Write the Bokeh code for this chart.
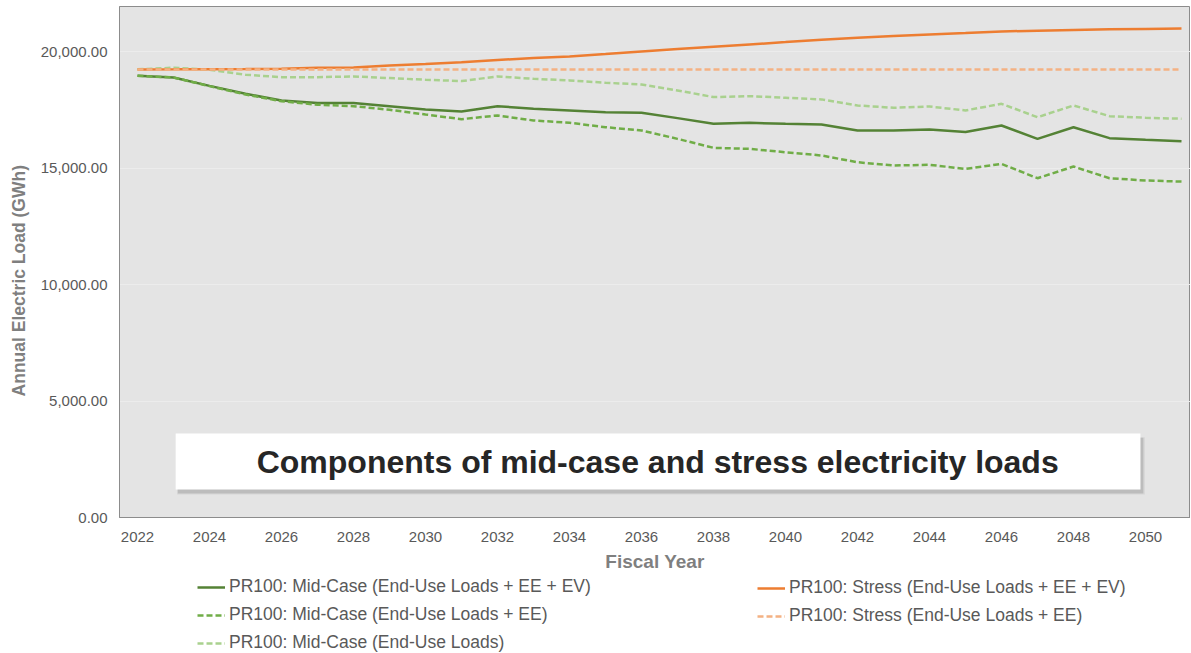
import math
from bokeh.plotting import figure
from bokeh.layouts import column, row
from bokeh.models import (ColumnDataSource, Legend, LegendItem, FixedTicker,
                          NumeralTickFormatter, BoxAnnotation, Label)
from bokeh.embed import file_html
from bokeh.resources import INLINE

# ---------------- data ----------------
years = list(range(2022, 2052))
tick_years = [2022, 2024, 2026, 2028, 2030, 2032, 2034, 2036, 2038, 2040,
              2042, 2044, 2046, 2048, 2050]
y_ticks = [0, 5000, 10000, 15000, 20000]

mid_ee_ev = [18975, 18900, 18540, 18200, 17915, 17800, 17800, 17670, 17530, 17440,
             17670, 17555, 17485, 17410, 17385, 17155, 16910, 16955, 16910, 16880,
             16625, 16625, 16670, 16555, 16840, 16265, 16765, 16295, 16225, 16165]
mid_ee = [18975, 18900, 18530, 18170, 17880, 17730, 17670, 17515, 17310, 17110,
          17270, 17055, 16955, 16765, 16625, 16265, 15880, 15835, 15690, 15550,
          15260, 15120, 15150, 14975, 15190, 14575, 15075, 14575, 14475, 14430]
mid_enduse = [19250, 19320, 19235, 19020, 18915, 18915, 18945, 18875, 18805, 18745,
              18945, 18845, 18775, 18675, 18600, 18345, 18060, 18100, 18030, 17960,
              17700, 17600, 17655, 17485, 17770, 17195, 17700, 17240, 17170, 17130]
stress_ee_ev = [19248, 19250, 19255, 19265, 19280, 19320, 19335, 19420, 19475, 19560,
                19650, 19735, 19805, 19905, 20020, 20120, 20220, 20320, 20420, 20525,
                20610, 20680, 20750, 20810, 20880, 20910, 20940, 20970, 20985, 21000]
stress_ee = [19240, 19240, 19240, 19240, 19240, 19240, 19240, 19240, 19240, 19240,
             19240, 19240, 19240, 19240, 19240, 19240, 19240, 19240, 19240, 19240,
             19240, 19240, 19240, 19240, 19240, 19240, 19240, 19240, 19240, 19240]

labels = ["PR100: Mid-Case (End-Use Loads + EE + EV)",
          "PR100: Mid-Case (End-Use Loads + EE)",
          "PR100: Mid-Case (End-Use Loads)",
          "PR100: Stress (End-Use Loads + EE + EV)",
          "PR100: Stress (End-Use Loads + EE)"]
colors = ["#548235", "#70AD47", "#A9D18E", "#ED7D31", "#F4B183"]
dashes = ["solid", "6 3", "6 3", "solid", "6 3"]
title_text = "Components of mid-case and stress electricity loads"
x_title = "Fiscal Year"
y_title = "Annual Electric Load (GWh)"

src = ColumnDataSource(dict(year=years, mid_ee_ev=mid_ee_ev, mid_ee=mid_ee,
                            mid_enduse=mid_enduse, stress_ee_ev=stress_ee_ev,
                            stress_ee=stress_ee))
series_cols = ["mid_ee_ev", "mid_ee", "mid_enduse", "stress_ee_ev", "stress_ee"]

FONT = "Liberation Sans"
GRAY_TXT = "#595959"
GRAY_TTL = "#7F7F7F"
LW = 2.5
YT_W = 32          # width of the strip holding the y-axis title
MAIN_H = 574

# ---------------- y-axis title strip ----------------
yt = figure(width=YT_W, height=MAIN_H, output_backend="svg", toolbar_location=None,
            x_range=(0, YT_W), y_range=(MAIN_H, 0), x_axis_location=None,
            y_axis_location=None, min_border=0)
yt.outline_line_color = None
yt.grid.visible = False
yt.add_layout(Label(x=18, y=308, text=y_title, angle=math.pi / 2,
                    text_align="center", text_baseline="middle",
                    text_font=FONT, text_font_style="bold",
                    text_font_size="17.5px", text_color=GRAY_TTL))

# ---------------- main chart ----------------
p = figure(width=1190 - YT_W, height=MAIN_H, output_backend="svg",
           toolbar_location=None,
           x_range=(2021.5, 2051.25), y_range=(0, 21950),
           min_border_top=6, min_border_right=0, min_border_left=119 - YT_W,
           min_border_bottom=56)

p.background_fill_color = "#E4E4E4"
p.border_fill_color = "white"
p.outline_line_color = "#8C8C8C"
p.outline_line_width = 1

p.xgrid.visible = False
p.ygrid.ticker = FixedTicker(ticks=y_ticks)
p.ygrid.grid_line_color = "#ECECEC"
p.ygrid.grid_line_width = 1

p.xaxis.ticker = FixedTicker(ticks=tick_years)
p.xaxis.axis_label = x_title
p.yaxis.ticker = FixedTicker(ticks=y_ticks)
p.yaxis.formatter = NumeralTickFormatter(format="0,0.00")
for ax in (p.xaxis[0], p.yaxis[0]):
    ax.major_tick_line_color = None
    ax.minor_tick_line_color = None
    ax.axis_line_color = "#8C8C8C"
    ax.major_label_text_font = FONT
    ax.major_label_text_font_size = "15px"
    ax.major_label_text_color = GRAY_TXT
    ax.axis_label_text_font = FONT
    ax.axis_label_text_font_style = "bold"
    ax.axis_label_text_color = GRAY_TTL
p.xaxis.axis_label_text_font_size = "19px"
p.xaxis.major_label_standoff = 8
p.yaxis.major_label_standoff = 6
p.xaxis.axis_label_standoff = 6

renderers = {}
for col, c, d in zip(series_cols, colors, dashes):
    renderers[col] = p.line("year", col, source=src, line_color=c,
                            line_width=LW, line_dash=d)

# title box with shadow
p.add_layout(BoxAnnotation(left=2023.10, right=2049.98, top=3450, bottom=990,
                           fill_color="#9A9A9A", fill_alpha=0.18, line_color=None))
p.add_layout(BoxAnnotation(left=2023.12, right=2049.94, top=3430, bottom=1030,
                           fill_color="#8A8A8A", fill_alpha=0.35, line_color=None))
p.add_layout(BoxAnnotation(left=2023.06, right=2049.86, top=3605, bottom=1200,
                           fill_color="white", fill_alpha=1.0, line_color=None))
p.add_layout(Label(x=2036.45, y=2380, text=title_text, text_align="center",
                   text_baseline="middle", text_font=FONT, text_font_style="bold",
                   text_font_size="32px", text_color="#262626"))

# ---------------- legend strip ----------------
lg = figure(width=1190, height=653 - MAIN_H, output_backend="svg",
            toolbar_location=None, x_range=(0, 1), y_range=(0, 1),
            x_axis_location=None, y_axis_location=None, min_border=0)
lg.outline_line_color = None
lg.grid.visible = False
lg.background_fill_color = "white"
lg_r = []
for c, d in zip(colors, dashes):
    # legend proxies, placed outside the visible range
    lg_r.append(lg.line(x=[-3, -2], y=[-3, -3], line_color=c, line_width=LW,
                        line_dash=d))


def make_legend(idx, loc):
    return Legend(items=[LegendItem(label=labels[i], renderers=[lg_r[i]]) for i in idx],
                  location=loc, orientation="vertical",
                  glyph_width=28, glyph_height=20, label_height=20,
                  label_standoff=4, spacing=7, padding=0, margin=0,
                  label_text_font=FONT, label_text_font_size="17.5px",
                  label_text_color=GRAY_TXT, background_fill_alpha=0,
                  border_line_color=None)


lg.add_layout(make_legend([0, 1, 2], (197, 0)))
lg.add_layout(make_legend([3, 4], (757, 27)))

layout = column(row(yt, p, spacing=0), lg, spacing=0)
open("out.html", "w").write(file_html(layout, INLINE))
